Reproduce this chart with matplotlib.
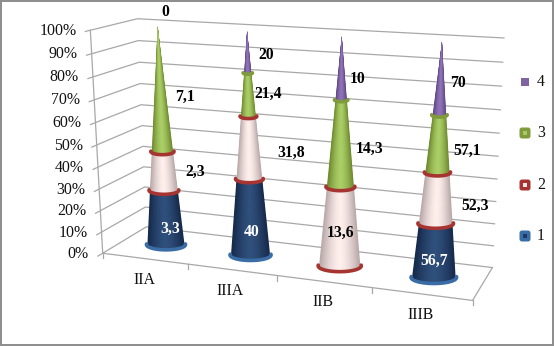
import numpy as np
import matplotlib

matplotlib.use("Agg")
import matplotlib.pyplot as plt
from matplotlib.collections import PolyCollection
from matplotlib.patches import FancyBboxPatch, Rectangle

plt.rcParams["font.family"] = ["Liberation Serif", "DejaVu Serif"]

# Данные диаграммы (nan - подпись отсутствует)
categories = ["IIA", "IIIA", "IIB", "IIIB"]
series_names = ["1", "2", "3", "4"]
series_1 = [3.3, 40, np.nan, 56.7]
series_2 = [2.3, 31.8, 13.6, 52.3]
series_3 = [7.1, 21.4, 14.3, 57.1]
series_4 = [0, 20, 10, 70]
percent_ticks = [0, 10, 20, 30, 40, 50, 60, 70, 80, 90, 100]

# Цвета: край конуса, центр конуса, кольцо
edge_colors = ["#16294a", "#b9a8a8", "#6d8a2e", "#5b4681"]
mid_colors = ["#2f507c", "#fff0ee", "#accf68", "#9073b8"]
rim_colors = ["#3a6ca6", "#a63532", "#7f9b3b", "#7d60a0"]
legend_inner = ["#1f3864", "#f7e6e4", "#a9c868", "#8064a2"]

# Смещения подписей от середины сегмента, пиксели
label_dx = [[5, 2, 0, -1], [32, 42, 1, 38], [25, 20, 29, 29], [8, 19, 16, 17]]
label_dy = [[11, 15, 0, 10], [1, 5, 6, 8], [7, -1, 5, 7], [-15, 3, 10, 4]]

# Калибровка перспективы: (x, процент, глубина) -> пиксели
world = [(0, 0, 0), (0, 100, 0), (4, 0, 0), (4, 0, 1), (4, 100, 1), (0, 0, 1), (0, 100, 1)]
screen = [(102, 252), (90.7, 31), (473, 301), (492, 267), (504, 38), (147, 228), (137, 18)]

rows = []
for (x, y, z), (u, v) in zip(world, screen):
    rows.append([x, y, z, 1, 0, 0, 0, 0, -u * x, -u * y, -u * z, -u])
    rows.append([0, 0, 0, 0, x, y, z, 1, -v * x, -v * y, -v * z, -v])
camera = np.linalg.svd(np.array(rows, dtype=float))[2][-1].reshape(3, 4)


def project(x, y, z):
    p = camera @ np.array([x, y, z, 1.0])
    return p[0] / p[2], p[1] / p[2]


def ellipse_params(i, pct):
    u, v = project(i + 0.5, pct, 0.5)
    left = project(i + 0.5 - 0.225, pct, 0.5)[0]
    right = project(i + 0.5 + 0.225, pct, 0.5)[0]
    half_w = (right - left) / 2 * (1 - pct / 100)
    return u, v, half_w, half_w * 0.27


def draw_segment(ax, i, low, high, s):
    # Вложенные полосы от края к центру, чтобы не было швов
    u0, v0, w0, h0 = ellipse_params(i, low)
    u1, v1, w1, h1 = ellipse_params(i, high)
    c_edge = np.array(matplotlib.colors.to_rgb(edge_colors[s]))
    c_mid = np.array(matplotlib.colors.to_rgb(mid_colors[s]))
    polys, colors = [], []
    for t in np.linspace(1, 0.03, 30):
        arc = np.linspace(np.arccos(t), np.pi - np.arccos(t), 24)
        bottom = np.column_stack([u0 + w0 * np.cos(arc), v0 + h0 * np.sin(arc)])
        top = np.column_stack([u1 + w1 * np.cos(arc[::-1]), v1 + h1 * np.sin(arc[::-1])])
        polys.append(np.vstack([bottom, top]))
        k = t ** 1.6
        colors.append(c_mid * (1 - k) + c_edge * k)
    ax.add_collection(PolyCollection(polys, facecolors=colors, edgecolors="none", zorder=3))


def draw_rim(ax, i, pct, s):
    u, v, w, h = ellipse_params(i, pct)
    angles = np.linspace(-0.12, np.pi + 0.12, 40)
    ax.plot(u + (w + 1) * np.cos(angles), v + (h + 0.3) * np.sin(angles), color=rim_colors[s],
            lw=2.6, solid_capstyle="round", zorder=4)


fig = plt.figure(figsize=(5.54, 3.46), dpi=100)
ax = fig.add_axes([0, 0, 1, 1])
ax.set_xlim(0, 554)
ax.set_ylim(346, 0)
ax.axis("off")
ax.add_patch(Rectangle((0.7, 0.7), 552.6, 344.6, fc="white", ec="#8c8c8c", lw=1.4, zorder=0))

# Сетка и оси
grid_color = "#a8a8a8"
for pct in percent_ticks:
    a = project(0, pct, 0)
    b = project(0, pct, 1)
    c = project(4, pct, 1)
    t = project(0, pct, -0.1)
    ax.plot([t[0], a[0], b[0], c[0]], [t[1], a[1], b[1], c[1]], color=grid_color, lw=0.9, zorder=1)
    ax.text(a[0] - 14, a[1] + 0.5, f"{pct}%", ha="right", va="center", fontsize=11.4, color="#111111", zorder=5)

a = project(0, 0, 0)
b = project(0, 100, 0)
ax.plot([a[0], b[0]], [a[1], b[1]], color=grid_color, lw=0.9, zorder=1)
c = project(4, 0, 0)
d = project(4, 0, 1)
ax.plot([a[0], c[0], d[0]], [a[1], c[1], d[1]], color=grid_color, lw=0.9, zorder=1)
for i in range(len(categories) + 1):
    p = project(i, 0, 0)
    ax.plot([p[0], p[0]], [p[1], p[1] + 5], color=grid_color, lw=0.9, zorder=1)

cat_dx = [0, -2, -1, -1]
for i, name in enumerate(categories):
    p = project(i + 0.5, 0, 0)
    ax.text(p[0] + cat_dx[i], p[1] + 21, name, ha="center", va="center", fontsize=11.4, color="#111111", zorder=5)

# Конусы: 100% накопление по сериям
all_series = [series_1, series_2, series_3, series_4]
for i in range(len(categories)):
    vals = [np.nan_to_num(s[i]) for s in all_series]
    cum = np.concatenate([[0], np.cumsum(vals)]) / sum(vals) * 100
    first = next(s for s in range(4) if vals[s] > 0)
    draw_rim(ax, i, 0, first)
    for s in range(4):
        if vals[s] > 0:
            draw_segment(ax, i, cum[s], cum[s + 1], s)
    for s in (0, 1, 2):
        if vals[s] > 0 and cum[s + 1] < 100:
            draw_rim(ax, i, cum[s + 1], max(s, 1))
    for s in range(4):
        if np.isnan(all_series[s][i]):
            continue
        u, v = project(i + 0.5, (cum[s] + cum[s + 1]) / 2, 0.5)
        label = str(all_series[s][i]).replace(".", ",")
        ax.text(u + label_dx[s][i], v + label_dy[s][i], label, ha="center", va="center",
                fontsize=11.3, fontweight="bold", color="white" if s == 0 else "black", zorder=6)

# Легенда
legend_y = [236, 185, 133, 82]
for s, name in enumerate(series_names):
    y = legend_y[s]
    if s < 3:
        ax.add_patch(FancyBboxPatch((525 - 3.5, y - 3.5), 7, 7, boxstyle="round,pad=2,rounding_size=2.5",
                                    fc=rim_colors[s], ec="none", zorder=5))
        ax.add_patch(Rectangle((525 - 1.7, y - 1.7), 3.4, 3.4, fc=legend_inner[s], ec="none", zorder=6))
    else:
        ax.add_patch(Rectangle((525 - 4, y - 4), 8, 8, fc=legend_inner[s], ec="none", zorder=5))
    ax.text(537, y, name, ha="left", va="center", fontsize=11.4, color="#111111", zorder=5)

plt.savefig("out.png", dpi=100)
plt.close()
